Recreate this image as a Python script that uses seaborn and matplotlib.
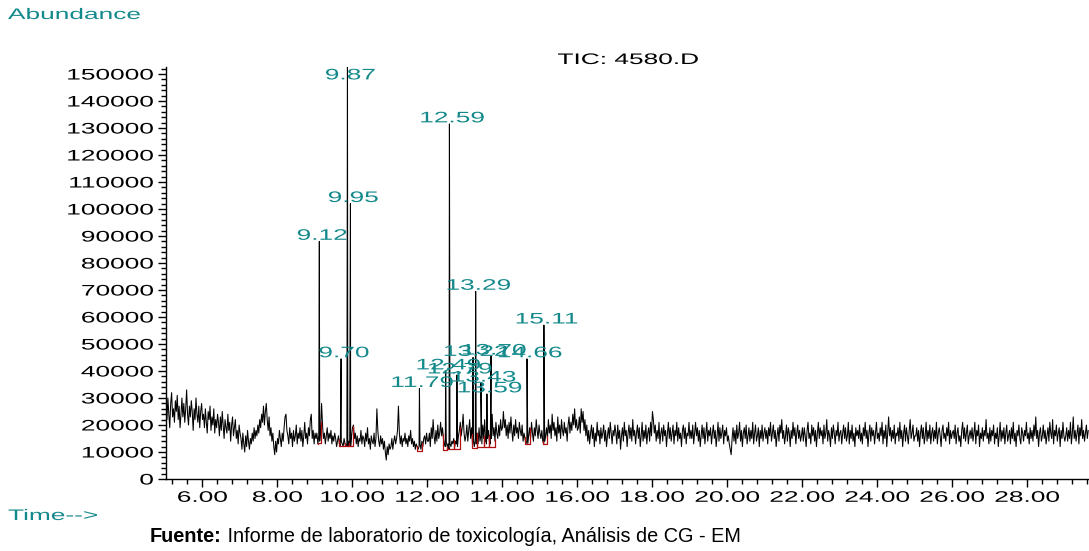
import numpy as np
import pandas as pd
import matplotlib
matplotlib.use("Agg")
import matplotlib.pyplot as plt
from matplotlib.ticker import MultipleLocator, FixedLocator, FixedFormatter
from matplotlib.patheffects import AbstractPathEffect
from matplotlib.transforms import Affine2D
import seaborn as sns

# ---------------- data ----------------
scan_step_min = 0.025
# TIC baseline abundance in thousands; one row per minute, first scan at m.03 min
row_start_min = [5.03, 6.03, 7.03, 8.03, 9.03, 10.03, 11.03, 12.03, 13.03, 14.03,
                 15.03, 16.03, 17.03, 18.03, 19.03, 20.03, 21.03, 22.03, 23.03,
                 24.03, 25.03, 26.03, 27.03, 28.03, 29.03]
baseline_rows_k = [
    [27, 22, 30, 24, 19, 28, 32, 23, 26, 21, 29, 25, 31, 22, 27, 19, 24, 30, 23, 28,
     21, 26, 33, 24, 20, 27, 23, 29, 25, 18, 26, 22, 30, 24, 21, 27, 19, 25, 28, 22],
    [24, 19, 26, 21, 17, 25, 22, 27, 18, 23, 20, 26, 17, 22, 19, 24, 21, 16, 23, 18,
     25, 20, 15, 22, 19, 17, 24, 18, 21, 14, 20, 23, 16, 19, 22, 15, 18, 13, 20, 17],
    [15, 11, 17, 13, 10, 16, 12, 18, 14, 11, 15, 13, 17, 14, 19, 15, 18, 16, 20, 17,
     22, 19, 24, 21, 27, 20, 25, 28, 22, 18, 23, 16, 19, 14, 17, 12, 9, 14, 10, 15],
    [13, 18, 15, 12, 17, 14, 19, 23, 24, 18, 16, 13, 19, 15, 17, 12, 18, 14, 16, 20,
     13, 17, 15, 19, 14, 18, 12, 16, 21, 15, 17, 13, 19, 16, 22, 24, 15, 18, 13, 17],
    [15, 17, 13, 16, 14, 18, 28, 20, 15, 17, 13, 16, 19, 14, 17, 15, 18, 13, 16, 14,
     17, 15, 12, 14, 16, 13, 12, 14, 13, 12, 15, 13, 12, 13, 12, 14, 13, 12, 16, 19],
    [20, 15, 17, 13, 16, 12, 15, 14, 18, 13, 16, 15, 12, 17, 14, 19, 13, 15, 11, 16,
     14, 13, 17, 12, 15, 26, 18, 14, 12, 16, 13, 15, 11, 14, 10, 7, 12, 9, 13, 11],
    [12, 15, 11, 14, 16, 13, 15, 18, 27, 17, 13, 16, 12, 15, 14, 17, 13, 15, 12, 16,
     14, 18, 13, 15, 12, 14, 11, 13, 12, 11, 12, 13, 11, 14, 12, 15, 16, 13, 17, 14],
    [14, 17, 12, 19, 15, 22, 16, 13, 18, 14, 20, 15, 17, 21, 16, 19, 15, 13, 12, 14,
     12, 13, 11, 13, 12, 14, 13, 15, 12, 14, 13, 12, 16, 18, 21, 16, 19, 24, 17, 14],
    [16, 20, 14, 18, 22, 15, 19, 13, 14, 12, 15, 13, 17, 13, 19, 14, 16, 13, 20, 15,
     22, 14, 13, 15, 18, 14, 13, 15, 24, 16, 19, 14, 21, 17, 15, 20, 16, 22, 18, 19],
    [25, 19, 22, 16, 20, 15, 21, 17, 23, 18, 14, 20, 16, 22, 17, 19, 15, 21, 18, 16,
     20, 14, 17, 15, 13, 14, 13, 16, 19, 15, 21, 17, 14, 19, 16, 22, 18, 15, 20, 17],
    [15, 18, 14, 13, 14, 16, 19, 15, 22, 17, 20, 15, 24, 18, 21, 16, 19, 14, 23, 17,
     20, 15, 22, 18, 16, 21, 17, 19, 14, 20, 23, 17, 21, 18, 24, 20, 26, 19, 22, 18],
    [19, 23, 17, 26, 21, 25, 18, 22, 16, 20, 14, 18, 13, 17, 20, 15, 19, 12, 17, 14,
     21, 16, 18, 13, 19, 15, 17, 20, 14, 18, 12, 16, 19, 15, 21, 17, 13, 18, 16, 20],
    [17, 13, 20, 15, 18, 11, 16, 19, 14, 21, 16, 18, 12, 17, 20, 15, 19, 14, 22, 16,
     18, 13, 17, 20, 15, 19, 12, 16, 21, 14, 18, 15, 20, 13, 17, 19, 14, 21, 16, 25],
    [22, 17, 20, 14, 18, 15, 21, 13, 17, 19, 14, 20, 16, 18, 12, 17, 21, 15, 19, 14,
     17, 20, 13, 18, 16, 21, 14, 19, 15, 17, 12, 18, 20, 15, 19, 13, 17, 16, 21, 15],
    [18, 15, 20, 13, 17, 21, 16, 19, 14, 18, 12, 16, 20, 15, 19, 13, 17, 21, 14, 18,
     16, 19, 13, 17, 20, 15, 18, 12, 16, 21, 14, 19, 15, 17, 20, 13, 18, 16, 19, 14],
    [16, 13, 11, 9, 15, 19, 14, 18, 13, 20, 15, 17, 21, 14, 18, 12, 17, 19, 15, 20,
     13, 16, 19, 14, 18, 15, 21, 13, 17, 20, 14, 16, 19, 12, 18, 15, 20, 14, 17, 19],
    [15, 18, 13, 19, 16, 21, 14, 17, 20, 15, 18, 12, 16, 19, 14, 20, 17, 22, 15, 18,
     13, 16, 20, 14, 19, 17, 12, 18, 15, 21, 16, 19, 13, 17, 20, 15, 18, 14, 16, 19],
    [14, 19, 16, 12, 18, 21, 15, 17, 13, 20, 16, 19, 14, 18, 12, 17, 21, 15, 19, 16,
     18, 13, 20, 15, 17, 22, 14, 18, 16, 12, 19, 15, 20, 17, 13, 18, 16, 21, 14, 17],
    [18, 13, 17, 20, 15, 19, 14, 16, 21, 13, 18, 15, 20, 14, 17, 12, 19, 16, 18, 15,
     20, 14, 17, 13, 19, 16, 21, 15, 18, 12, 17, 20, 14, 19, 16, 18, 13, 17, 21, 15],
    [17, 14, 19, 16, 21, 13, 18, 15, 20, 12, 17, 23, 16, 19, 14, 18, 15, 20, 13, 17,
     16, 19, 14, 21, 15, 18, 12, 17, 20, 14, 19, 16, 13, 18, 22, 15, 17, 20, 14, 16],
    [16, 19, 14, 18, 12, 17, 20, 15, 19, 13, 16, 21, 14, 18, 15, 20, 13, 17, 19, 14,
     18, 15, 21, 13, 17, 19, 16, 12, 18, 20, 15, 17, 14, 19, 16, 21, 13, 18, 15, 17],
    [18, 15, 20, 13, 17, 19, 14, 16, 12, 18, 21, 15, 19, 14, 17, 20, 13, 16, 18, 15,
     19, 14, 17, 21, 13, 18, 16, 20, 12, 17, 15, 19, 14, 18, 16, 22, 15, 17, 13, 19],
    [14, 18, 16, 20, 13, 17, 15, 19, 12, 16, 21, 14, 18, 15, 19, 13, 17, 20, 14, 16,
     18, 13, 19, 15, 21, 14, 17, 12, 18, 16, 20, 15, 13, 19, 17, 14, 18, 16, 21, 15],
    [17, 13, 19, 15, 18, 14, 20, 16, 23, 15, 18, 12, 17, 19, 14, 16, 20, 15, 18, 13,
     16, 19, 14, 21, 17, 15, 22, 13, 18, 16, 20, 14, 17, 19, 12, 18, 15, 21, 16, 14],
    [16, 19, 14, 18, 15, 21, 13, 17, 23, 15, 18, 14, 17, 20, 13, 19, 16, 22, 15, 18,
     14, 17, 20, 15, 18],
]

peak_times = [9.12, 9.70, 9.87, 9.95, 11.79, 12.49, 12.59, 12.79,
              13.22, 13.29, 13.43, 13.59, 13.70, 14.66, 15.11]
peak_heights = [88000, 44500, 156000, 102000, 33500, 40000, 131500, 38500,
                45000, 69500, 35500, 31500, 45500, 44500, 57000]
peak_labels = ["9.12", "9.70", "9.87", "9.95", "11.79", "12.49", "12.59", "12.79",
               "13.22", "13.29", "13.43", "13.59", "13.70", "14.66", "15.11"]

# integration baselines (red): start time, end time, baseline abundance
integ_start = [9.08, 9.64, 9.82, 9.92, 11.72, 12.42, 12.53, 12.72,
               13.19, 13.33, 13.50, 13.64, 14.60, 15.08]
integ_end = [9.17, 9.80, 9.92, 10.02, 11.85, 12.53, 12.70, 12.88,
             13.33, 13.50, 13.64, 13.80, 14.73, 15.20]
integ_level = [13200, 12300, 12300, 12300, 10500, 10900, 11000, 11200,
               11500, 11700, 11800, 12000, 13000, 13000]

x_tick_values = [6, 8, 10, 12, 14, 16, 18, 20, 22, 24, 26, 28]
x_tick_labels = ["6.00", "8.00", "10.00", "12.00", "14.00", "16.00",
                 "18.00", "20.00", "22.00", "24.00", "26.00", "28.00"]
y_tick_values = [0, 10000, 20000, 30000, 40000, 50000, 60000, 70000,
                 80000, 90000, 100000, 110000, 120000, 130000, 140000, 150000]
y_tick_labels = [str(v) for v in y_tick_values]


# ---------------- helpers ----------------
class HStretch(AbstractPathEffect):
    """Draw a text wider (the instrument printout uses a horizontally stretched font)."""

    def __init__(self, sx, align="left"):
        super().__init__()
        self.sx = sx
        self.align = align

    def draw_path(self, renderer, gc, tpath, affine, rgbFace=None):
        ext = tpath.get_extents()
        if self.align == "center":
            anchor = 0.5 * (ext.x0 + ext.x1)
        elif self.align == "right":
            anchor = ext.x1
        else:
            anchor = 0.0
        pre = Affine2D().scale(self.sx, 1.0).translate(anchor * (1 - self.sx), 0)
        renderer.draw_path(gc, tpath, pre + affine, rgbFace)


SX = 1.72
TEAL = "#14898b"
RED = "#b01010"
FONT = "Liberation Sans"
FS = 11

# ---------------- figure ----------------
sns.set_style("ticks")
plt.rcParams["font.family"] = [FONT, "DejaVu Sans"]

W, H = 1089, 551
fig = plt.figure(figsize=(W / 100, H / 100), dpi=100)
ax_left, ax_right, ax_top, ax_bottom = 166, 1089, 67, 479
ax = fig.add_axes([ax_left / W, 1 - ax_bottom / H,
                   (ax_right - ax_left) / W, (ax_bottom - ax_top) / H])

frames = []
for t0, row in zip(row_start_min, baseline_rows_k):
    frames.append(pd.DataFrame({
        "time": t0 + scan_step_min * np.arange(len(row)),
        "abundance": np.array(row, dtype=float) * 1000.0,
    }))
frames.append(pd.DataFrame({"time": peak_times, "abundance": peak_heights}))
df = pd.concat(frames).sort_values("time", kind="stable").reset_index(drop=True)

sns.lineplot(data=df, x="time", y="abundance", estimator=None, sort=False,
             color="black", lw=0.75, ax=ax)

for s, e, lvl in zip(integ_start, integ_end, integ_level):
    ys = min(np.interp(s, df["time"], df["abundance"]), lvl + 8000)
    ye = min(np.interp(e, df["time"], df["abundance"]), lvl + 8000)
    ax.plot([s, s, e, e], [ys, lvl, lvl, ye], color=RED, lw=0.9, zorder=3)

ymax = 152600
ax.set_xlim(5.03, 29.65)
ax.set_ylim(0, ymax)

for t, h, lab in zip(peak_times, peak_heights, peak_labels):
    ax.annotate(lab, xy=(t, min(h, ymax * 0.966)), xytext=(2, -1),
                textcoords="offset points", ha="center", va="bottom",
                color=TEAL, fontsize=FS, zorder=5,
                path_effects=[HStretch(SX, "center")])

ax.xaxis.set_major_locator(FixedLocator(x_tick_values))
ax.xaxis.set_major_formatter(FixedFormatter(x_tick_labels))
ax.xaxis.set_minor_locator(MultipleLocator(0.4))
ax.yaxis.set_major_locator(FixedLocator(y_tick_values))
ax.yaxis.set_major_formatter(FixedFormatter(y_tick_labels))
ax.yaxis.set_minor_locator(MultipleLocator(2000))
ax.tick_params(axis="both", which="major", length=6, width=1, color="black",
               labelsize=FS, labelcolor="black", pad=3)
ax.tick_params(axis="both", which="minor", length=3.5, width=1, color="black")
ax.tick_params(axis="x", which="major", pad=2.5)
for lab in ax.xaxis.get_majorticklabels():
    lab.set_path_effects([HStretch(SX, "center")])
for lab in ax.yaxis.get_majorticklabels():
    lab.set_path_effects([HStretch(SX, "right")])

ax.set_xlabel("")
ax.set_ylabel("")
for side in ("top", "right"):
    ax.spines[side].set_visible(False)
for side in ("left", "bottom"):
    ax.spines[side].set_color("black")
    ax.spines[side].set_linewidth(1)
ax.set_facecolor("white")

fig.text(8 / W, 1 - 15 / H, "Abundance", color=TEAL, fontsize=FS,
         ha="left", va="center", path_effects=[HStretch(SX, "left")])
fig.text(628 / W, 1 - 60 / H, "TIC: 4580.D", color="black", fontsize=FS,
         ha="center", va="center", path_effects=[HStretch(SX, "center")])
fig.text(8 / W, 1 - 516 / H, "Time-->", color=TEAL, fontsize=FS,
         ha="left", va="center", path_effects=[HStretch(SX, "left")])
t1 = fig.text(150 / W, 1 - 537 / H, "Fuente:", color="black", fontsize=14.3,
              fontweight="bold", family=FONT, ha="left", va="center")
fig.add_artist(plt.Annotation(
    " Informe de laboratorio de toxicología, Análisis de CG - EM",
    xy=(1, 0), xycoords=t1, va="bottom", ha="left",
    color="black", fontsize=14.3, family=FONT))

fig.savefig("out.png", dpi=100, facecolor="white")
